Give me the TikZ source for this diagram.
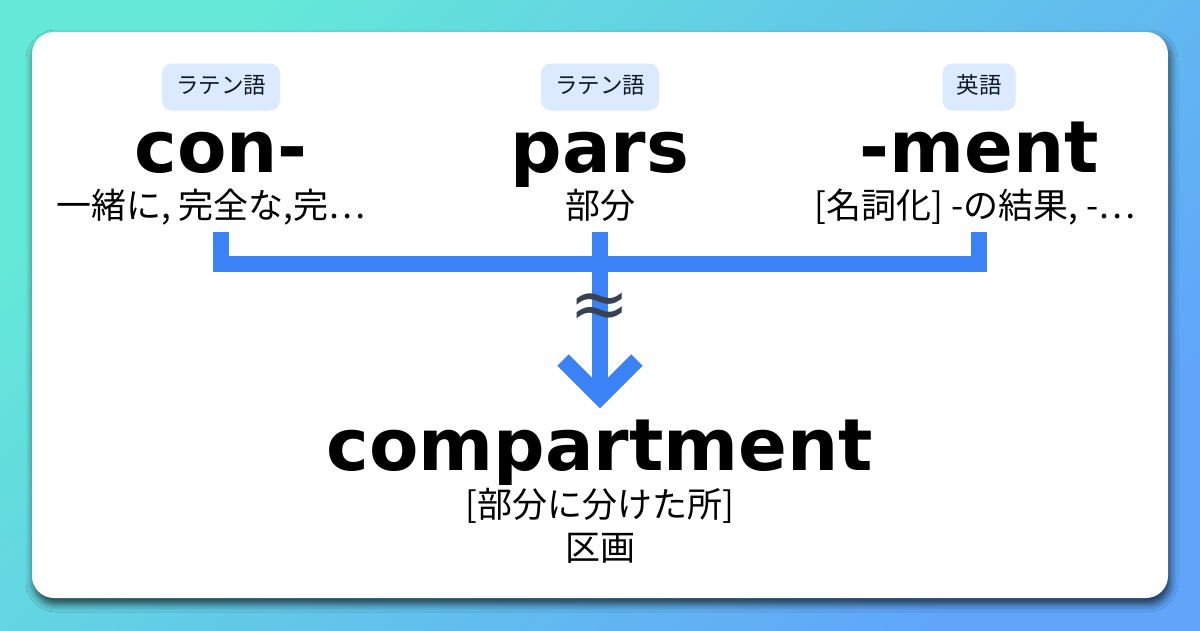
\documentclass[tikz,border=0pt]{standalone}
\usepackage{fontspec}
\setmainfont{DejaVu Sans}
\newfontfamily\jpfont{Noto Sans CJK JP}
\usetikzlibrary{positioning,calc,shadows.blur}

\definecolor{bgteal}{HTML}{64E8D8}
\definecolor{bgblue}{HTML}{60A5FA}
\definecolor{tagblue}{HTML}{DBEAFE}
\definecolor{tagtext}{HTML}{111827}
\definecolor{barblue}{HTML}{3B82F6}
\definecolor{approxgray}{HTML}{374151}

\tikzset{
  word/.style={font=\fontsize{72}{72}\selectfont\bfseries, anchor=base, inner sep=0pt},
  tag/.style={fill=tagblue, rounded corners=10pt, text=tagtext,
    font=\jpfont\fontsize{22.5}{22.5}\selectfont, minimum height=47pt,
    inner xsep=14pt, text height=16pt, text depth=3pt},
  gloss/.style={font=\jpfont\fontsize{35}{35}\selectfont, anchor=base, inner sep=0pt},
  bar/.style={draw=barblue, line width=16pt, line join=miter},
}

\begin{document}
\begin{tikzpicture}[x=1pt,y=1pt]
\useasboundingbox (0,0) rectangle (1200,-630);
\shade[left color=bgteal, right color=bgblue, shading angle=45] (0,0) rectangle (1200,-630);
\fill[white, rounded corners=22pt,
  blur shadow={shadow xshift=2pt, shadow yshift=-6pt, shadow blur radius=8pt, shadow opacity=70}]
  (32,-32) rectangle (1168,-598);

% morphemes
\node[word] (con) at (221,-172) {con-};
\node[word] (pars) at (600,-172) {pars};
\node[word] (ment) at (979,-172) {-ment};

\node[tag] (contag) at ([yshift=85]con.base) {ラテン語};
\node[tag] (parstag) at ([yshift=85]pars.base) {ラテン語};
\node[tag] (menttag) at ([yshift=85]ment.base) {英語};

\node[gloss] (congloss) at ([xshift=-10,yshift=-46]con.base) {一緒に, 完全な,完…};
\node[gloss] (parsgloss) at ([yshift=-46]pars.base) {部分};
\node[gloss] (mentgloss) at ([xshift=-4,yshift=-46]ment.base) {[名詞化] -の結果, -…};

% result
\node[word] (comp) at (600,-470) {compartment};
\node[gloss] (compgloss) at ([yshift=-47]comp.base) {[部分に分けた所]};
\node[gloss] (compjp) at ([yshift=-43]compgloss.base) {区画};

% bracket and arrow
\coordinate (top) at (0,-232);
\coordinate (join) at (0,-264);
\coordinate (tip) at (600,-397);
\draw[bar] (con |- top) -- (con |- join) -- (ment |- join) -- (ment |- top);
\draw[bar] (pars |- top) -- (tip);
\draw[bar] ($(tip)+(-37,37)$) -- (tip) -- ($(tip)+(37,37)$);
\node[font=\fontsize{72}{72}\selectfont, text=approxgray, inner sep=0pt] (approx) at (600,-311) {≈};
\end{tikzpicture}
\end{document}
